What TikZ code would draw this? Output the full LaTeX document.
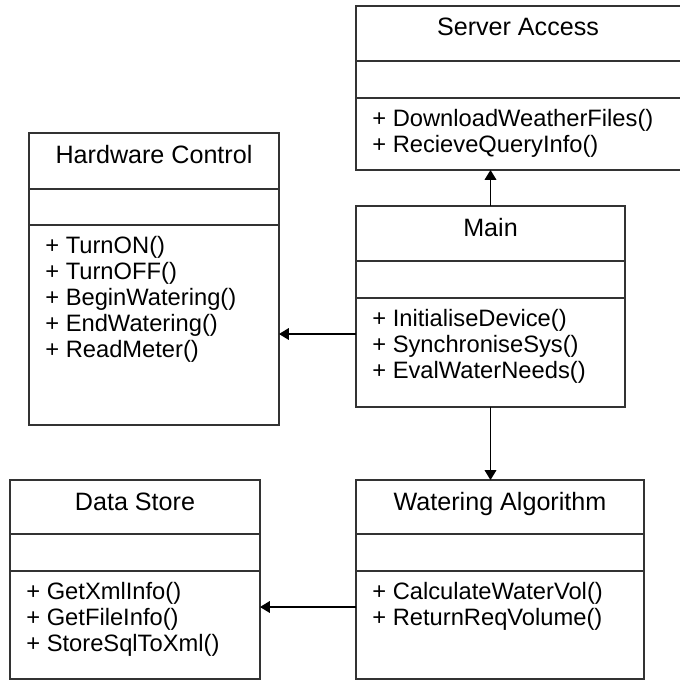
\documentclass[tikz,border=0pt]{standalone}
\usepackage{fontspec}
\setmainfont{Liberation Sans}
\usetikzlibrary{arrows.meta,calc,positioning}

\begin{document}
\begin{tikzpicture}[x=0.02cm,y=-0.02cm,>={Triangle[length=5.6pt,width=6.6pt]},
  font=\fontsize{13.5}{14.75}\selectfont,
  box/.style={draw=black!80,line width=.8pt,inner sep=0pt,outer sep=0pt},
  sep/.style={draw=black!80,line width=.8pt},
  flow/.style={->,line width=.8pt},
  title/.style={anchor=base,inner sep=0pt,font=\fontsize{14.3}{16}\selectfont},
  ops/.style={anchor=base west,inner sep=0pt}]
\useasboundingbox (0,0) rectangle (680,680);
\clip (0,0) rectangle (680,680);
% class boxes
\node[box,minimum width=6.96cm,minimum height=3.28cm] (srv) at (530,88) {};
\node[box,minimum width=5cm,minimum height=5.84cm] (hw) at (154,279) {};
\node[box,minimum width=5.38cm,minimum height=4.02cm] (main) at (490.5,306.5) {};
\node[box,minimum width=5cm,minimum height=3.98cm] (ds) at (135,579.5) {};
\node[box,minimum width=5.76cm,minimum height=3.98cm] (wat) at (500,579.5) {};
% compartments
\foreach \c/\a/\b in {srv/61/98,hw/189/225,main/261/298,ds/534/571,wat/534/571}{
  \draw[sep] (\c.west |- 0,\a) -- (\c.east |- 0,\a);
  \draw[sep] (\c.west |- 0,\b) -- (\c.east |- 0,\b);
}
% titles
\node[title] (srv-t) at (518,35) {Server Access};
\node[title] (hw-t) at (hw.north |- 0,163) {Hardware Control};
\node[title] (main-t) at (main.north |- 0,236) {Main};
\node[title] (ds-t) at (ds.north |- 0,510) {Data Store};
\node[title] (wat-t) at (wat.north |- 0,510) {Watering Algorithm};
% operations
\foreach \m [count=\k from 0] in {DownloadWeatherFiles(),RecieveQueryInfo()}
  \node[ops] (srv-m\k) at (372,126+26*\k) {+ \m};
\foreach \m [count=\k from 0] in {TurnON(),TurnOFF(),BeginWatering(),EndWatering(),ReadMeter()}
  \node[ops] (hw-m\k) at (45,253+26*\k) {+ \m};
\foreach \m [count=\k from 0] in {InitialiseDevice(),SynchroniseSys(),EvalWaterNeeds()}
  \node[ops] (main-m\k) at (372,326+26*\k) {+ \m};
\foreach \m [count=\k from 0] in {GetXmlInfo(),GetFileInfo(),StoreSqlToXml()}
  \node[ops] (ds-m\k) at (26,599+26*\k) {+ \m};
\foreach \m [count=\k from 0] in {CalculateWaterVol(),ReturnReqVolume()}
  \node[ops] (wat-m\k) at (372,599+26*\k) {+ \m};
% associations
\coordinate (hwrow) at (0,334);
\coordinate (dsrow) at (0,607);
\draw[flow] (main.north) -- (srv.south -| main.north);
\draw[flow] (main.west |- hwrow) -- (hw.east |- hwrow);
\draw[flow] (main.south) -- (main.south |- wat.north);
\draw[flow] (wat.west |- dsrow) -- (ds.east |- dsrow);
\end{tikzpicture}
\end{document}
